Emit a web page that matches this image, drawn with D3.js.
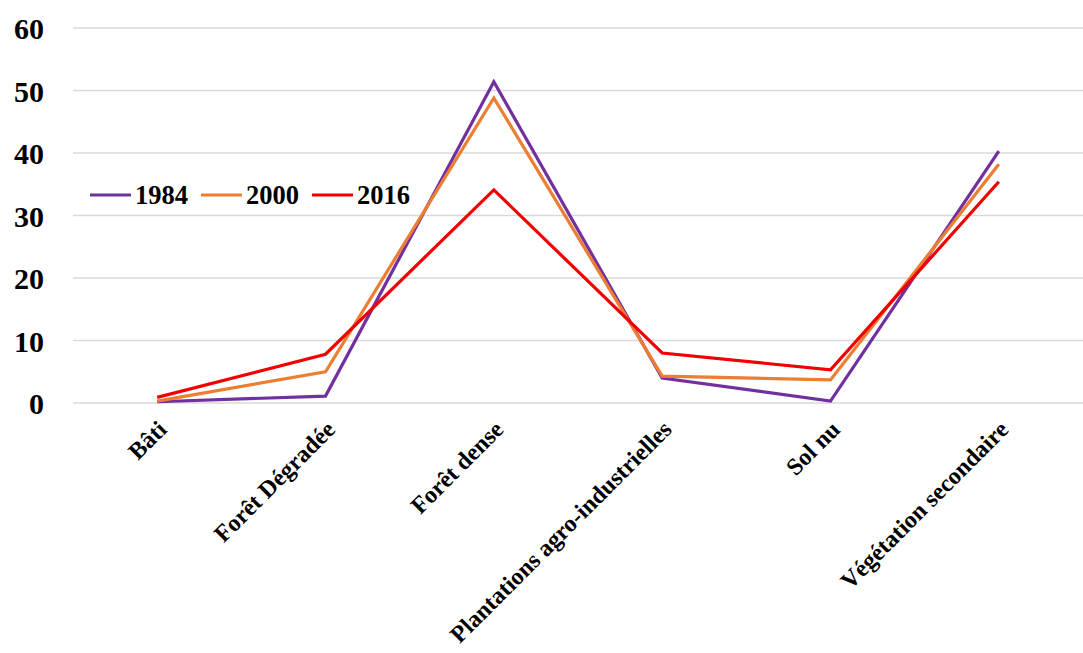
<!DOCTYPE html>
<html><head><meta charset="utf-8">
<script src="https://cdn.jsdelivr.net/npm/d3@7"></script>
<style>body{margin:0;background:#fff}svg{display:block}</style>
</head><body>
<svg id="c" width="1083" height="653"></svg>
<script>
const categories = ["Bâti","Forêt Dégradée","Forêt dense","Plantations agro-industrielles","Sol nu","Végétation secondaire"];
const seriesNames = ["1984","2000","2016"];
const v1984 = [0.2, 1.1, 51.4, 4.0, 0.3, 40.3];
const v2000 = [0.3, 5.0, 48.8, 4.3, 3.7, 38.2];
const v2016 = [0.9, 7.8, 34.1, 8.0, 5.3, 35.4];
const yTicks = [0,10,20,30,40,50,60];
const colors = ["#7030A0","#ED7D31","#F00000"];
const seriesVals = [v1984, v2000, v2016];

(function(){
const svg = d3.select("#c");
const mLeft = 73, mRight = 1083, mTop = 28, mBottom = 403;
const x = d3.scaleBand().domain(categories).range([mLeft, mRight]);
const y = d3.scaleLinear().domain([0,60]).range([mBottom, mTop]);
const font = "'Liberation Serif','Times New Roman',serif";

// grid
svg.append("g").selectAll("line").data(yTicks).join("line")
  .attr("x1", mLeft).attr("x2", mRight)
  .attr("y1", d=>y(d)).attr("y2", d=>y(d))
  .attr("stroke", "#d9d9d9").attr("stroke-width", 1.5);

// y axis
const ya = svg.append("g").attr("transform", `translate(44,0)`)
  .call(d3.axisLeft(y).tickValues(yTicks).tickSize(0).tickPadding(0));
ya.select(".domain").remove();
ya.selectAll("text").attr("font-family", font).attr("font-weight","bold")
  .attr("font-size", 30).attr("fill","#000").attr("dy","0.35em");

// x axis labels
const xa = svg.append("g").attr("transform", `translate(5,${mBottom+22})`)
  .call(d3.axisBottom(x).tickSize(0).tickPadding(0));
xa.select(".domain").remove();
xa.selectAll("text").attr("font-family", font).attr("font-weight","bold")
  .attr("font-size", 24).attr("fill","#000")
  .attr("text-anchor","end").attr("x",0).attr("y",0).attr("dy","0.35em")
  .attr("transform","rotate(-45)");

// lines
const line = d3.line().x((d,i)=>x(categories[i]) + x.bandwidth()/2).y(d=>y(d));
seriesVals.forEach((vals, k) => {
  svg.append("path").datum(vals).attr("d", line)
    .attr("fill","none").attr("stroke", colors[k]).attr("stroke-width", 3.2)
    .attr("stroke-linejoin","miter");
});

// legend
const legX = [90, 201, 312];
const lg = svg.append("g");
seriesNames.forEach((n,k) => {
  lg.append("line").attr("x1", legX[k]).attr("x2", legX[k]+41)
    .attr("y1", 195).attr("y2", 195).attr("stroke", colors[k]).attr("stroke-width", 3.2);
  lg.append("text").attr("x", legX[k]+45).attr("y", 195).attr("dy","0.35em")
    .attr("font-family", font).attr("font-weight","bold").attr("font-size", 26.5)
    .text(n);
});
})();
</script>
</body></html>
